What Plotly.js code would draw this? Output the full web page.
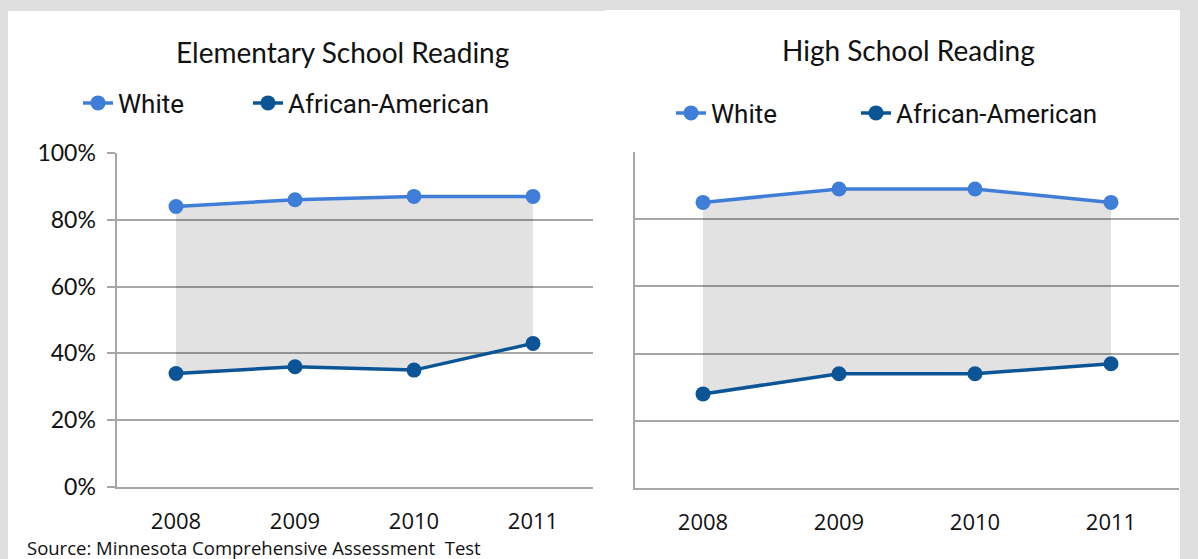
<!DOCTYPE html>
<html>
<head>
<meta charset="utf-8">
<script src="https://cdn.plot.ly/plotly-3.0.1.min.js"></script>
<style>
  html, body { margin: 0; padding: 0; background: #dfdfdf; }
  #chart { width: 1198px; height: 559px; }
</style>
</head>
<body>
<div id="chart"></div>
<script>
// Reading proficiency by year, Minnesota Comprehensive Assessment
const years = ['2008', '2009', '2010', '2011'];
const elemWhite = [84, 86, 87, 87];
const elemAfricanAmerican = [34, 36, 35, 43];
const highWhite = [85, 89, 89, 85];
const highAfricanAmerican = [28, 34, 34, 37];
const yTickValues = [0, 20, 40, 60, 80, 100];
const yTickLabels = ['0%', '20%', '40%', '60%', '80%', '100%'];

const W = 1198, H = 559;
const px = v => v / W;             // horizontal pixel -> paper fraction
const py = v => (H - v) / H;       // vertical pixel (from top) -> paper fraction

const lightBlue = '#3f7ed8';
const darkBlue = '#0b5597';
const gridGrey = '#a6a6a6';
const gapFill = 'rgba(0,0,0,0.115)';

function gapTrace(upper, lower, xa, ya) {
  return {
    x: years.concat(years.slice().reverse()),
    y: upper.concat(lower.slice().reverse()),
    xaxis: xa, yaxis: ya,
    mode: 'lines', fill: 'toself', fillcolor: gapFill,
    line: { width: 0 }, hoverinfo: 'skip', showlegend: false
  };
}

function seriesTrace(name, values, color, xa, ya, legend) {
  return {
    x: years, y: values, name: name,
    xaxis: xa, yaxis: ya, legend: legend,
    mode: 'lines+markers', type: 'scatter',
    line: { color: color, width: 3.5 },
    marker: { color: color, size: 15 }
  };
}

const data = [
  gapTrace(elemWhite, elemAfricanAmerican, 'x', 'y'),
  gapTrace(highWhite, highAfricanAmerican, 'x2', 'y2'),
  seriesTrace('White', elemWhite, lightBlue, 'x', 'y', 'legend'),
  seriesTrace('African-American', elemAfricanAmerican, darkBlue, 'x', 'y', 'legend2'),
  seriesTrace('White', highWhite, lightBlue, 'x2', 'y2', 'legend3'),
  seriesTrace('African-American', highAfricanAmerican, darkBlue, 'x2', 'y2', 'legend4')
];

const tickFontX = { family: 'Open Sans, Liberation Sans, sans-serif', size: 22, color: '#111' };
const tickFontY = { family: 'Lato, Open Sans, sans-serif', size: 23, color: '#111' };
const legendFont = { family: 'Roboto, Liberation Sans, sans-serif', size: 26, color: '#111' };
const titleFont = { family: 'Lato, Open Sans, sans-serif', size: 28, color: '#111' };

const xCommon = {
  type: 'category', range: [-0.5, 3.5], fixedrange: true,
  showgrid: false, zeroline: false,
  showline: true, linecolor: gridGrey, linewidth: 2,
  ticks: '', tickfont: tickFontX, ticklabelstandoff: 14
};
const yCommon = {
  range: [0, 100], fixedrange: true,
  tickvals: yTickValues, ticktext: yTickLabels,
  showgrid: true, gridcolor: gridGrey, gridwidth: 2,
  zeroline: false, showline: true, linecolor: gridGrey, linewidth: 2
};

function legendAt(xPix, yPix) {
  return {
    orientation: 'h', x: px(xPix), xanchor: 'left', y: py(yPix), yanchor: 'middle',
    bgcolor: 'rgba(0,0,0,0)', font: legendFont
  };
}

const layout = {
  width: W, height: H,
  margin: { l: 0, r: 0, t: 0, b: 0 },
  paper_bgcolor: '#dfdfdf',
  plot_bgcolor: 'rgba(0,0,0,0)',
  xaxis: Object.assign({}, xCommon, { domain: [px(116.5), px(592.5)], anchor: 'y' }),
  yaxis: Object.assign({}, yCommon, {
    domain: [py(487), py(153)], anchor: 'x',
    ticks: 'outside', ticklen: 8, tickwidth: 2, tickcolor: gridGrey,
    tickfont: tickFontY, ticklabelstandoff: 6
  }),
  xaxis2: Object.assign({}, xCommon, { domain: [px(635), px(1179)], anchor: 'y2' }),
  yaxis2: Object.assign({}, yCommon, {
    domain: [py(488), py(152)], anchor: 'x2',
    ticks: '', showticklabels: false
  }),
  legend: legendAt(78, 103),
  legend2: legendAt(248, 103),
  legend3: legendAt(671, 113),
  legend4: legendAt(856, 113),
  shapes: [
    { type: 'rect', xref: 'paper', yref: 'paper', layer: 'below',
      x0: px(8), x1: px(606), y0: 0, y1: py(11),
      fillcolor: '#ffffff', line: { width: 0 } },
    { type: 'rect', xref: 'paper', yref: 'paper', layer: 'below',
      x0: px(605), x1: px(1180), y0: 0, y1: py(10),
      fillcolor: '#ffffff', line: { width: 0 } }
  ],
  annotations: [
    { text: 'Elementary School Reading', xref: 'paper', yref: 'paper',
      x: px(342), y: py(52), xanchor: 'center', yanchor: 'middle',
      showarrow: false, font: titleFont },
    { text: 'High School Reading', xref: 'paper', yref: 'paper',
      x: px(908), y: py(50), xanchor: 'center', yanchor: 'middle',
      showarrow: false, font: titleFont },
    { text: 'Source: Minnesota Comprehensive Assessment&nbsp; Test', xref: 'paper', yref: 'paper',
      x: px(25), y: py(547), xanchor: 'left', yanchor: 'middle',
      showarrow: false,
      font: { family: 'Open Sans, Liberation Sans, sans-serif', size: 18.5, color: '#111' } }
  ],
  showlegend: true,
  hovermode: false
};

Plotly.newPlot('chart', data, layout, { displayModeBar: false, staticPlot: true });
</script>
</body>
</html>
